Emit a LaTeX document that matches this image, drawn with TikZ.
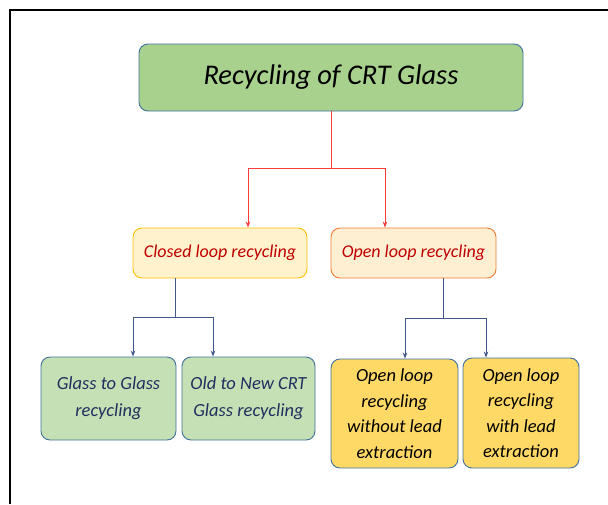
\documentclass[tikz,border=0pt]{standalone}
\usepackage{fontspec}
\setmainfont{Carlito}
\usetikzlibrary{arrows.meta}
\definecolor{titlefill}{HTML}{A9D18E}
\definecolor{boxborder}{HTML}{41719C}
\definecolor{closedfill}{HTML}{FFF2CC}
\definecolor{closedborder}{HTML}{FFC000}
\definecolor{openfill}{HTML}{FEEFD3}
\definecolor{openborder}{HTML}{ED7D31}
\definecolor{darkred}{HTML}{C00000}
\definecolor{lightgreen}{HTML}{C5E0B4}
\definecolor{navytext}{HTML}{1F2F5F}
\definecolor{goldfill}{HTML}{FFD966}
\definecolor{redline}{HTML}{FF3B3B}
\definecolor{blueline}{HTML}{42578A}
\tikzset{
  box/.style={draw=boxborder, line width=0.9pt, rounded corners=9pt, align=center, inner sep=2pt},
  redarrow/.style={draw=redline, line width=0.8pt, -{Stealth[length=6pt,width=4.5pt]}},
  redseg/.style={draw=redline, line width=0.8pt},
  bluearrow/.style={draw=blueline, line width=0.8pt, -{Stealth[length=6pt,width=4.5pt]}},
  blueseg/.style={draw=blueline, line width=0.8pt},
}
\begin{document}
\begin{tikzpicture}[x=1pt,y=-1pt]
\useasboundingbox (0,0) rectangle (608,504);
\draw[line width=2.4pt] (10,504) -- (10,10) -- (608,10);
\node[box, fill=titlefill, minimum width=384pt, minimum height=67pt,
  font=\itshape\fontsize{28.5}{32}\selectfont] (title) at (331,77.5) {Recycling of CRT Glass};
\node[box, draw=closedborder, fill=closedfill, minimum width=174pt, minimum height=50pt,
  text=darkred, font=\itshape\fontsize{18}{20}\selectfont] (closed) at (220,253) {Closed loop recycling};
\node[box, draw=openborder, fill=openfill, minimum width=165pt, minimum height=50pt,
  text=darkred, font=\itshape\fontsize{18}{20}\selectfont] (open) at (413.5,253) {Open loop recycling};
\node[box, fill=lightgreen, minimum width=135pt, minimum height=83pt,
  text=navytext, font=\itshape\fontsize{18.5}{27}\selectfont] (g2g) at (108.5,398.5) {Glass to Glass\\recycling};
\node[box, fill=lightgreen, minimum width=133pt, minimum height=83pt,
  text=navytext, font=\itshape\fontsize{18.5}{27}\selectfont] (old) at (248.5,398.5) {Old to New CRT\\Glass recycling};
\node[box, fill=goldfill, minimum width=127pt, minimum height=109pt,
  font=\itshape\fontsize{18.5}{25.5}\selectfont] (without) at (394.5,413.5) {Open loop\\recycling\\without lead\\extraction};
\node[box, fill=goldfill, minimum width=116pt, minimum height=110pt,
  font=\itshape\fontsize{18.5}{25.5}\selectfont] (with) at (521,413) {Open loop\\recycling\\with lead\\extraction};
\coordinate (rj) at (331,168);
\coordinate (cj) at (175,317);
\coordinate (oj) at (443,318);
\draw[redseg] (title.south) -- (rj);
\draw[redarrow] (rj) -| ([xshift=28pt]closed.north);
\draw[redarrow] (rj) -| ([xshift=-28.5pt]open.north);
\draw[blueseg] ([xshift=-45pt]closed.south) -- (cj);
\draw[bluearrow] (cj) -| ([xshift=24.5pt]g2g.north);
\draw[bluearrow] (cj) -| ([xshift=-35.5pt]old.north);
\draw[blueseg] ([xshift=29.5pt]open.south) -- (oj);
\draw[bluearrow] (oj) -| ([xshift=10.5pt]without.north);
\draw[bluearrow] (oj) -| ([xshift=-35pt]with.north);
\end{tikzpicture}
\end{document}
